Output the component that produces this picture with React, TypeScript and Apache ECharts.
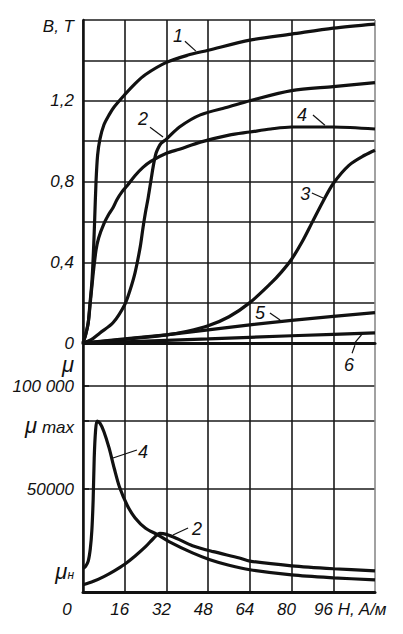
import React, { useEffect, useRef } from "react";
import * as echarts from "echarts";

// ---- B(H) curves (top panel), H in A/m, B in T ----
const H1 = [0, 1, 2, 2.7, 3.4, 4, 4.5, 5, 5.6, 6.5, 8, 10, 12, 16, 20, 24, 32, 40, 48, 64, 80, 96, 112];
const B1 = [0, 0.04, 0.1, 0.2, 0.3, 0.45, 0.62, 0.8, 0.93, 1.01, 1.08, 1.13, 1.17, 1.23, 1.285, 1.33, 1.39, 1.425, 1.45, 1.5, 1.53, 1.56, 1.58];

const H2 = [0, 3, 6.5, 11.5, 16, 18, 20, 22, 23, 24, 25, 26, 27, 28, 29, 30, 32, 37, 45, 56, 64, 80, 96, 112];
const B2 = [0, 0.015, 0.05, 0.1, 0.19, 0.26, 0.35, 0.48, 0.57, 0.65, 0.72, 0.8, 0.88, 0.94, 0.97, 0.99, 1.01, 1.07, 1.13, 1.17, 1.2, 1.25, 1.27, 1.29];

const H3 = [0, 16, 32, 40, 48, 56, 64, 72, 76, 80, 84, 88, 92, 96, 102, 108, 112];
const B3 = [0, 0.018, 0.04, 0.058, 0.085, 0.13, 0.2, 0.295, 0.35, 0.415, 0.5, 0.6, 0.7, 0.79, 0.88, 0.93, 0.955];

const H4 = [0, 1, 2, 2.8, 3.8, 5, 6, 8, 10, 11.5, 13, 15, 17, 20, 23, 26, 32, 37, 45, 56, 64, 72, 80, 96, 112];
const B4 = [0, 0.04, 0.1, 0.2, 0.33, 0.46, 0.52, 0.59, 0.64, 0.67, 0.71, 0.75, 0.78, 0.83, 0.87, 0.9, 0.94, 0.96, 0.995, 1.03, 1.045, 1.06, 1.07, 1.07, 1.06];

const H56 = [0, 16, 32, 48, 64, 80, 96, 112];
const B5 = [0, 0.02, 0.04, 0.065, 0.09, 0.112, 0.132, 0.15];
const B6 = [0, 0.006, 0.013, 0.02, 0.028, 0.036, 0.043, 0.05];

// ---- mu(H) curves (bottom panel) ----
const HM4 = [0, 1, 2, 2.8, 3.4, 3.9, 4.3, 4.8, 5.4, 6.5, 8, 10, 12, 14, 17, 20, 24, 28.4, 33, 42, 48.7, 56, 64, 80, 96, 112];
const MU4 = [11500, 12500, 15000, 21000, 30000, 45000, 65000, 78000, 83000, 82000, 78000, 70000, 60000, 51000, 42000, 36000, 31000, 28000, 24500, 19000, 15700, 13000, 10800, 8300, 6900, 5900];

const HM2 = [0, 4, 8, 12, 16, 20, 24, 27, 29.5, 32, 36, 42, 50, 60, 64, 80, 96, 112];
const MU2 = [3500, 5200, 7500, 10300, 13500, 17500, 22000, 26000, 28500, 28000, 26000, 22500, 19600, 16500, 15000, 12700, 11300, 10300];

// ---- axis tick labels ----
const H_TICKS = [0, 16, 32, 48, 64, 80, 96, 112];
const H_AXIS_NAME = "H, A/м";
const B_LABEL_VALUES = [0, 0.4, 0.8, 1.2, 1.57];
const MU_LABEL_VALUES = [10000, 50000, 81000, 100000, 110500];
const MU_TICK_VALUES = [50000, 83000, 100000];

// ---- curve number annotations [H, value, text] and leaders ----
const TOP_LABELS: [number, number, string][] = [
  [36.4, 1.52, "1"],
  [23, 1.109, "2"],
  [85.2, 0.738, "3"],
  [84, 1.129, "4"],
  [67.9, 0.149, "5"],
];
const TOP_LEADERS: [number, number, number, number][] = [
  [39.1, 1.495, 43.3, 1.446],
  [25.7, 1.069, 30.7, 1.02],
  [87.8, 0.743, 92.1, 0.718],
  [88.2, 1.129, 92.8, 1.079],
  [71.7, 0.149, 75.6, 0.114],
  [104.3, 0.002, 107.4, 0.0495],
];
const BOTTOM_LABELS: [number, number, string][] = [
  [23, 68000, "4"],
  [43.7, 30600, "2"],
  [102, 110300, "6"],
];
const BOTTOM_LEADERS: [number, number, number, number][] = [
  [20.7, 69000, 11.5, 65100],
  [40.3, 31100, 34.5, 27700],
  [103.2, 116000, 104.3, 119900],
];

const zip = (a: number[], b: number[]) => a.map((v, i) => [v, b[i]]);

const FONT = "Liberation Sans";
const INK = "#111";

export default function App() {
  const ref = useRef<HTMLDivElement>(null);

  useEffect(() => {
    document.body.style.margin = "0";
    if (!ref.current) return;
    const chart = echarts.init(ref.current, null, { renderer: "svg" });

    const labelStyle = {
      color: INK,
      fontFamily: FONT,
      fontStyle: "italic",
      fontSize: 17,
    };

    const curve = (data: number[][], xi: number, extra: any = {}) => ({
      type: "line",
      xAxisIndex: xi,
      yAxisIndex: xi,
      data,
      showSymbol: false,
      smooth: 0.3,
      lineStyle: { color: INK, width: 3.2 },
      itemStyle: { color: INK },
      silent: true,
      ...extra,
    });

    const marks = (
      labels: [number, number, string][],
      leaders: [number, number, number, number][]
    ) => ({
      markPoint: {
        symbol: "circle",
        symbolSize: 1,
        itemStyle: { color: "rgba(0,0,0,0)" },
        silent: true,
        label: {
          show: true,
          position: "inside",
          formatter: "{b}",
          color: INK,
          fontFamily: FONT,
          fontStyle: "italic",
          fontSize: 18,
        },
        data: labels.map(([x, y, t]) => ({ name: t, coord: [x, y] })),
      },
      markLine: {
        symbol: ["none", "none"],
        silent: true,
        label: { show: false },
        lineStyle: { color: INK, width: 1.2, type: "solid" },
        data: leaders.map(([x1, y1, x2, y2]) => [
          { coord: [x1, y1] },
          { coord: [x2, y2] },
        ]),
      },
    });

    const xSplitColors = H_TICKS.map((_, i) =>
      i === H_TICKS.length - 1 ? "#8a8a8a" : "#1a1a1a"
    );

    const xAxisBase = (gridIndex: number, showLabels: boolean) => ({
      type: "value",
      gridIndex,
      min: 0,
      max: 112,
      interval: 16,
      axisLine: {
        show: true,
        onZero: false,
        lineStyle: { color: INK, width: 3 },
      },
      axisTick: { show: false },
      splitLine: {
        show: true,
        lineStyle: { color: xSplitColors, width: 1.6 },
      },
      axisLabel: {
        show: showLabels,
        margin: 9,
        hideOverlap: false,
        showMinLabel: true,
        showMaxLabel: false,
        formatter: (v: number) => {
          if (v === 0) return "{z|0}";
          if (v === 96) return "{n|96 " + H_AXIS_NAME + "}";
          if (v === 112) return "";
          return "{a|" + v + "}";
        },
        rich: {
          a: { ...labelStyle, padding: [0, 10, 0, 0] },
          z: { ...labelStyle, padding: [0, 32, 0, 0] },
          n: { ...labelStyle, padding: [0, 0, 0, 34] },
        },
      },
    });

    const option: any = {
      animation: false,
      backgroundColor: "#fff",
      grid: [
        { left: 83, top: 20, width: 292, height: 323 },
        { left: 83, top: 345, width: 292, height: 247 },
      ],
      xAxis: [xAxisBase(0, false), xAxisBase(1, true)],
      yAxis: [
        {
          type: "value",
          gridIndex: 0,
          min: 0,
          max: 1.6,
          interval: 0.2,
          axisLine: { show: true, lineStyle: { color: INK, width: 2.5 } },
          axisTick: { show: false },
          splitLine: { show: true, lineStyle: { color: "#1a1a1a", width: 1.6 } },
          axisLabel: {
            ...labelStyle,
            margin: 9,
            showMinLabel: true,
            showMaxLabel: true,
            customValues: B_LABEL_VALUES,
            formatter: (v: number) => {
              if (v > 1.5) return "B, T";
              if (Math.abs(v / 0.4 - Math.round(v / 0.4)) > 1e-6) return "";
              if (v === 0) return "0";
              return v.toFixed(1).replace(".", ",");
            },
          },
        },
        {
          type: "value",
          gridIndex: 1,
          min: 0,
          max: 120000,
          interval: 20000,
          axisLine: { show: true, lineStyle: { color: INK, width: 2.5 } },
          axisTick: {
            show: true,
            inside: true,
            length: 6,
            customValues: MU_TICK_VALUES,
            lineStyle: { color: INK, width: 1.5 },
          },
          splitLine: { show: true, lineStyle: { color: "#1a1a1a", width: 1.6 } },
          axisLabel: {
            ...labelStyle,
            margin: 9,
            showMinLabel: true,
            showMaxLabel: true,
            customValues: MU_LABEL_VALUES,
            formatter: (v: number) => {
              if (v === 10000) return "{m|μ}{s|н}";
              if (v === 50000) return "50000";
              if (v === 81000) return "{m|μ} {x|max}";
              if (v === 100000) return "100 000";
              if (v === 110500) return "{m|μ}";
              return "";
            },
            rich: {
              m: { ...labelStyle, fontSize: 22 },
              s: { ...labelStyle, fontSize: 12, padding: [8, 0, 0, 0] },
              x: { ...labelStyle, fontSize: 17, padding: [4, 0, 0, 0] },
            },
          },
        },
      ],
      series: [
        curve(zip(H1, B1), 0, marks(TOP_LABELS, TOP_LEADERS)),
        curve(zip(H2, B2), 0),
        curve(zip(H3, B3), 0),
        curve(zip(H4, B4), 0),
        curve(zip(H56, B5), 0, { smooth: false }),
        curve(zip(H56, B6), 0, { smooth: false }),
        curve(zip(HM4, MU4), 1, marks(BOTTOM_LABELS, BOTTOM_LEADERS)),
        curve(zip(HM2, MU2), 1),
      ],
    };

    chart.setOption(option);
    return () => chart.dispose();
  }, []);

  return <div ref={ref} style={{ width: 403, height: 634 }} />;
}
